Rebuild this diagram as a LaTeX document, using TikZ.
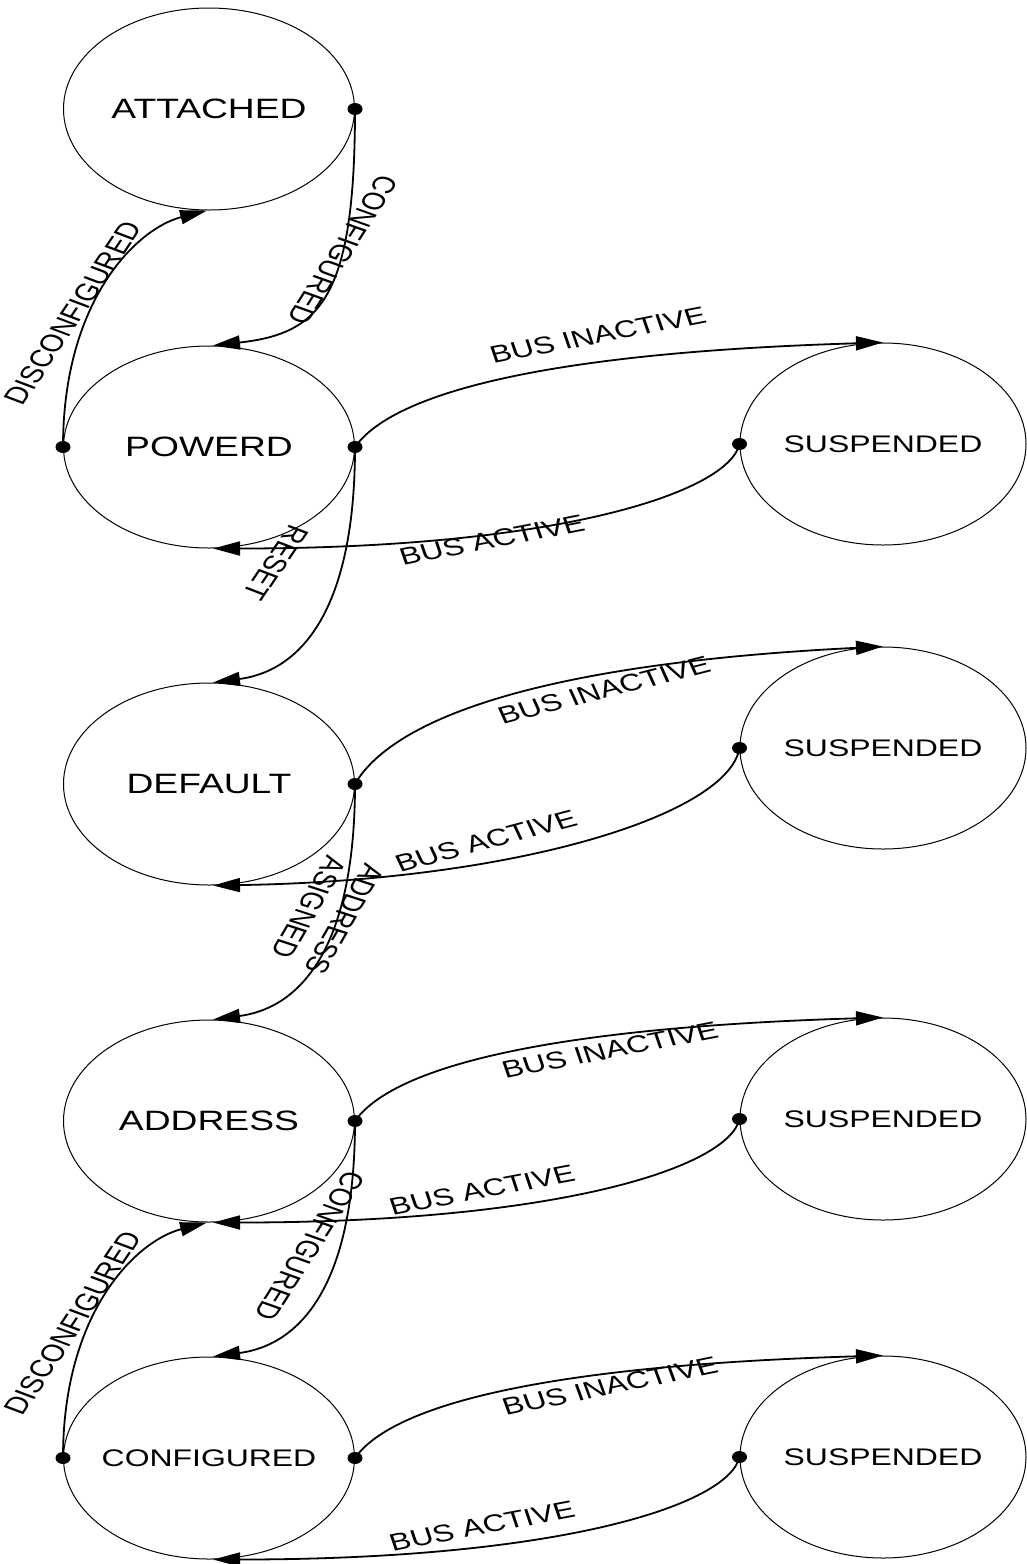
\documentclass[tikz,border=0pt]{standalone}
\usepackage{fontspec}
\setmainfont{Liberation Sans}
\newfontfamily\statefont[FakeStretch=1.33]{Liberation Sans}
\usetikzlibrary{shapes.geometric,arrows.meta}

\tikzset{
  state/.style={ellipse, draw, line width=1pt, minimum width=291pt,
    minimum height=202pt, inner sep=0pt,
    font=\statefont\fontsize{28}{32}\selectfont},
  small/.style={font=\statefont\fontsize{24}{28}\selectfont},
  susp/.style={state, small, minimum width=286pt},
  junc/.style={ellipse, fill, minimum width=15pt, minimum height=12pt, inner sep=0pt},
  conn/.style={line width=1.8pt, -{Triangle[length=27pt,width=14pt]}},
  lbl/.style={inner sep=0pt, font=\fontsize{24}{29}\selectfont, xscale=1.33},
}

\begin{document}
\begin{tikzpicture}[x=1pt,y=-1pt]
\useasboundingbox (0,0) rectangle (1027,1564);

% device states
\node[state] (att)  at (209,109)  {\makebox[0pt]{ATTACHED}};
\node[state] (pow)  at (209,447)  {\makebox[0pt]{POWERD}};
\node[state] (def)  at (209,784)  {\makebox[0pt]{DEFAULT}};
\node[state] (addr) at (209,1121) {\makebox[0pt]{ADDRESS}};
\node[state, small] (conf) at (209,1458) {\makebox[0pt]{CONFIGURED}};

% suspended states
\node[susp] (s1) at (883,444)  {\makebox[0pt]{SUSPENDED}};
\node[susp] (s2) at (883,748)  {\makebox[0pt]{SUSPENDED}};
\node[susp] (s3) at (883,1119) {\makebox[0pt]{SUSPENDED}};
\node[susp] (s4) at (883,1457) {\makebox[0pt]{SUSPENDED}};

% junction dots where transitions leave a state
\node[junc] (attE)  at (att.east)  {};
\node[junc] (powW)  at (pow.west)  {};
\node[junc] (powE)  at (pow.east)  {};
\node[junc] (defE)  at (def.east)  {};
\node[junc] (addrE) at (addr.east) {};
\node[junc] (confW) at (conf.west) {};
\node[junc] (confE) at (conf.east) {};
\node[junc] (s1W) at (s1.west) {};
\node[junc] (s2W) at (s2.west) {};
\node[junc] (s3W) at (s3.west) {};
\node[junc] (s4W) at (s4.west) {};

% main chain
\draw[conn] (attE.center) .. controls +(0,190) and +(107,-12) .. ([xshift=4pt]pow.north);
\draw[conn] (powW.center) .. controls +(0,-147) and +(-70,18) .. ([xshift=-2pt]att.south);
\draw[conn] (powE.center) .. controls +(0,160) and +(90,-12) .. ([xshift=4pt]def.north);
\draw[conn] (defE.center) .. controls +(0,160) and +(90,-12) .. ([xshift=4pt]addr.north);
\draw[conn] (addrE.center) .. controls +(0,160) and +(90,-12) .. ([xshift=4pt]conf.north);
\draw[conn] (confW.center) .. controls +(0,-147) and +(-70,18) .. ([xshift=-2pt]addr.south);

% suspend / resume
\draw[conn] (powE.center) .. controls +(26,-37) and +(-404,12) .. (s1.north);
\draw[conn] (s1W.center) .. controls +(-11,48) and +(347,0) .. ([xshift=4pt]pow.south);
\draw[conn] (defE.center) .. controls +(26,-45) and +(-404,20) .. (s2.north);
\draw[conn] (s2W.center) .. controls +(-11,66) and +(307,-5) .. ([xshift=4pt]def.south);
\draw[conn] (addrE.center) .. controls +(26,-37) and +(-404,12) .. (s3.north);
\draw[conn] (s3W.center) .. controls +(-11,48) and +(347,0) .. ([xshift=4pt]addr.south);
\draw[conn] (confE.center) .. controls +(26,-37) and +(-404,12) .. (s4.north);
\draw[conn] (s4W.center) .. controls +(-11,48) and +(347,0) .. ([xshift=4pt]conf.south);

% transition labels
\node[lbl, rotate=-115.5] (lConf1) at (343,250) {CONFIGURED};
\node[lbl, rotate=63.3] (lDisc1) at (73,313) {DISCONFIGURED};
\node[lbl, rotate=14.4] (lIn1) at (598,335) {BUS INACTIVE};
\node[lbl, rotate=14.5] (lAc1) at (492,540) {BUS ACTIVE};
\node[lbl, rotate=-116.8] (lReset) at (276,563) {RESET};
\node[lbl, rotate=18.7] (lIn2) at (604,690) {BUS INACTIVE};
\node[lbl, rotate=19.4] (lAc2) at (486,841) {BUS ACTIVE};
\node[lbl, rotate=-113.5, align=center] (lAddr) at (327,913) {ADDRESS\\ASIGNED};
\node[lbl, rotate=14.4] (lIn3) at (610,1050) {BUS INACTIVE};
\node[lbl, rotate=14.1] (lAc3) at (482,1190) {BUS ACTIVE};
\node[lbl, rotate=-115.5] (lConf2) at (310,1246) {CONFIGURED};
\node[lbl, rotate=63.4] (lDisc2) at (73,1323) {DISCONFIGURED};
\node[lbl, rotate=15.3] (lIn4) at (610,1386) {BUS INACTIVE};
\node[lbl, rotate=14.2] (lAc4) at (482,1526) {BUS ACTIVE};
\end{tikzpicture}
\end{document}
